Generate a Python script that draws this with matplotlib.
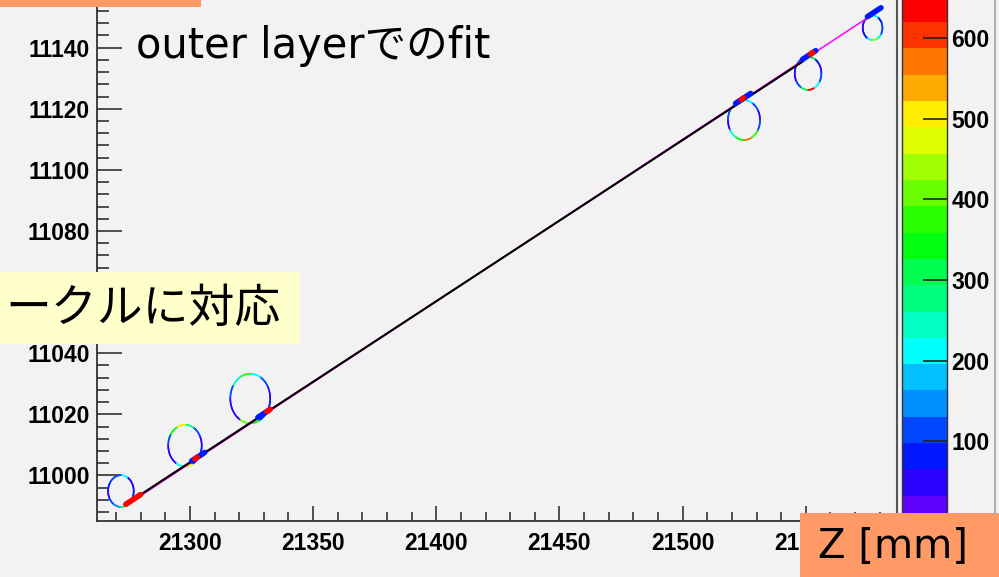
import numpy as np
import matplotlib
matplotlib.use("Agg")
import matplotlib.pyplot as plt
from matplotlib.collections import LineCollection
from matplotlib.colors import ListedColormap, BoundaryNorm
from matplotlib.cm import ScalarMappable
from matplotlib.patches import Rectangle
from matplotlib.lines import Line2D
from matplotlib.ticker import MultipleLocator

# ---- drift circles: centre (z, r) and radius, all in mm ----
circle_z = [21272.0, 21298.0, 21324.5, 21524.9, 21550.9, 21577.1]
circle_r = [10994.9, 11009.8, 11025.2, 11116.3, 11131.6, 11146.5]
circle_rad = [5.2, 6.8, 8.1, 6.5, 5.4, 4.0]
# charge seen along each circle, 12 sectors counter-clockwise from +z
circle_charge = [
    [40, 60, 220, 120, 100, 80, 50, 100, 150, 280, 230, 90],
    [40, 100, 280, 490, 350, 120, 40, 60, 220, 470, 120, 80],
    [50, 120, 200, 380, 230, 100, 40, 60, 400, 330, 110, 70],
    [50, 100, 220, 150, 200, 110, 60, 230, 340, 560, 360, 120],
    [60, 90, 330, 230, 110, 90, 50, 100, 320, 640, 200, 110],
    [110, 90, 220, 120, 90, 60, 50, 70, 220, 430, 250, 110],
]

# ---- straight-line track fits (z, r) ----
all_fit_z = [21274.8, 21548.8]
all_fit_r = [10991.0, 11135.5]
outer_fit_z = [21275.0, 21578.5]
outer_fit_r = [10990.7, 11151.6]

# ---- hits on the track: z range and charge ----
hit_z0 = [21274.0, 21300.7, 21302.0, 21327.6, 21331.2, 21521.5, 21523.8, 21548.7, 21551.8, 21575.0]
hit_z1 = [21280.0, 21306.0, 21303.0, 21331.5, 21332.6, 21527.6, 21524.8, 21554.0, 21552.8, 21580.5]
hit_q = [650, 80, 640, 80, 640, 80, 640, 80, 640, 80]

# ---- axis ranges and ticks ----
z_range = (21262.3, 21587.0)
r_range = (10985.1, 11155.6)
z_ticks = [21300, 21350, 21400, 21450, 21500, 21550]
r_ticks = [11000, 11020, 11040, 11060, 11080, 11100, 11120, 11140]
r_hidden = [11060]  # label sits under the annotation box
q_max = 652.0
q_ticks = [100, 200, 300, 400, 500, 600]

palette = ["#6000ff", "#2c00ff", "#0018ff", "#0048ff", "#0090ff", "#00c0ff",
           "#00ffff", "#00ffc0", "#00ff80", "#00ff50", "#00ff10", "#2aff00",
           "#6aff00", "#a0ff00", "#dfff00", "#ffee00", "#ffaa00", "#ff7700",
           "#ff3300", "#ff0000"]
cmap = ListedColormap(palette)
norm = BoundaryNorm(np.linspace(0, q_max, len(palette) + 1), cmap.N)

W, H = 999, 577
BG = "#f2f2f2"
fig = plt.figure(figsize=(W / 100, H / 100), dpi=100, facecolor=BG)


def fx(px):
    return px / W


def fy(py):
    return 1 - py / H


ax = fig.add_axes([fx(97), fy(521), fx(897) - fx(97), fy(0) - fy(521)])
ax.set_facecolor(BG)
ax.set_xlim(*z_range)
ax.set_ylim(*r_range)

# circles
for zc, rc, rad, q in zip(circle_z, circle_r, circle_rad, circle_charge):
    nsec = len(q)
    per = 8
    th = np.linspace(0, 2 * np.pi, nsec * per + 1)
    pts = np.column_stack([zc + rad * np.cos(th), rc + rad * np.sin(th)])
    segs = np.stack([pts[:-1], pts[1:]], axis=1)
    vals = np.repeat(q, per)
    lc = LineCollection(segs, cmap=cmap, norm=norm, linewidths=1.2, capstyle="round")
    lc.set_array(np.asarray(vals, dtype=float))
    ax.add_collection(lc)

# fits
ax.plot(outer_fit_z, outer_fit_r, color="#ff00ff", lw=1.1, zorder=3)
ax.plot(all_fit_z, all_fit_r, color="black", lw=1.5, zorder=4)

# hits, placed on the outer-layer fit line
slope = (outer_fit_r[1] - outer_fit_r[0]) / (outer_fit_z[1] - outer_fit_z[0])
for z0, z1, q in zip(hit_z0, hit_z1, hit_q):
    r0 = outer_fit_r[0] + slope * (z0 - outer_fit_z[0]) + 0.4
    r1 = outer_fit_r[0] + slope * (z1 - outer_fit_z[0]) + 0.4
    ax.plot([z0, z1], [r0, r1], color=cmap(norm(q)), lw=4.0,
            solid_capstyle="round", zorder=5)

# axes styling
tick_font = dict(family="Liberation Sans", weight="bold", size=16.5)
ax.set_xticks(z_ticks)
ax.set_yticks(r_ticks)
ax.xaxis.set_minor_locator(MultipleLocator(10))
ax.yaxis.set_minor_locator(MultipleLocator(4))
ax.set_xticklabels([str(t) for t in z_ticks], fontdict=tick_font)
ax.set_yticklabels(["" if t in r_hidden else str(t) for t in r_ticks], fontdict=tick_font)
ax.tick_params(axis="x", which="major", direction="in", length=11, width=1.2,
               color="#333333", pad=8)
ax.tick_params(axis="x", which="minor", direction="in", length=6.5, width=1.2,
               color="#333333")
ax.tick_params(axis="y", which="major", direction="in", length=18, width=1.2,
               color="#333333", pad=5)
ax.tick_params(axis="y", which="minor", direction="in", length=8.5, width=1.2,
               color="#333333")
for s in ("left", "bottom"):
    ax.spines[s].set_color("#333333")
    ax.spines[s].set_linewidth(1.3)
ax.spines["right"].set_color("#555555")
ax.spines["right"].set_linewidth(1.5)
ax.spines["top"].set_visible(False)

# colour scale
cb_top_px = 522 - q_max * 0.807
cax = fig.add_axes([fx(902), fy(522), fx(947) - fx(902), fy(cb_top_px) - fy(522)])
cb = fig.colorbar(ScalarMappable(norm=norm, cmap=cmap), cax=cax)
cb.set_ticks(q_ticks)
cb.set_ticklabels([str(t) for t in q_ticks])
for lab in cax.get_yticklabels():
    lab.set_fontfamily("Liberation Sans")
    lab.set_fontweight("bold")
    lab.set_fontsize(16.5)
cax.tick_params(axis="y", direction="in", length=17, width=1.2, color="#222222", pad=3)
cax.minorticks_off()
cb.outline.set_linewidth(1.0)
cb.outline.set_edgecolor("#333333")

# pad border on the far right
fig.add_artist(Line2D([fx(995), fx(995)], [fy(515), fy(0)], color="#b0b0b0", lw=1.5))

# annotation boxes
jp = ["DejaVu Sans", "Noto Sans CJK JP"]
fig.add_artist(Rectangle((fx(0), fy(7)), fx(201), fy(0) - fy(7), color="#ff9966",
                         transform=fig.transFigure, lw=0))
fig.text(fx(136), fy(46), "outer layerでのfit", family=jp, size=30,
         va="center", ha="left", color="black")

fig.add_artist(Rectangle((fx(0), fy(344)), fx(300), fy(272) - fy(344), color="#ffffcc",
                         transform=fig.transFigure, lw=0))
fig.text(fx(281), fy(309), "ークルに対応", family=["Noto Sans CJK JP"], size=33,
         va="center", ha="right", color="black")

fig.add_artist(Rectangle((fx(800), fy(577)), fx(199), fy(513) - fy(577), color="#ff9966",
                         transform=fig.transFigure, lw=0))
fig.text(fx(893), fy(547), "Z [mm]", family=jp, size=29,
         va="center", ha="center", color="black")

fig.savefig("out.png", dpi=100, facecolor=BG)
